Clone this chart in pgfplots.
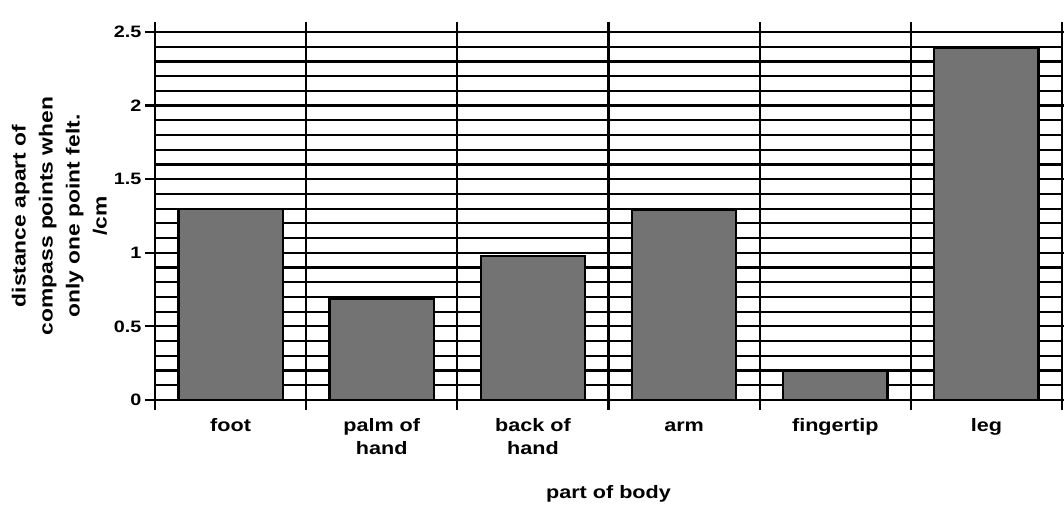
\documentclass[border=0pt]{standalone}
\usepackage{fontspec}
\setmainfont{Liberation Sans}[FakeStretch=1.2]
\usepackage{pgfplots}
\pgfplotsset{compat=1.18}
\begin{document}
\begin{tikzpicture}
\begin{axis}[
  scale only axis, width=907pt, height=368pt,
  xmin=-0.5, xmax=5.5, ymin=0, ymax=2.5,
  xtick={-0.5,0.5,1.5,2.5,3.5,4.5,5.5}, xticklabels={},
  xmajorgrids,
  extra x ticks={0,1,2,3,4,5},
  extra x tick labels={\strut foot,{\strut palm of\\hand},{\strut back of\\hand},\strut arm,\strut fingertip,\strut leg},
  extra x tick style={grid=none, major tick length=0pt,
    tick label style={align=center, font=\fontsize{18}{23}\selectfont\bfseries, yshift=-12pt}},
  ytick={0,0.5,1,1.5,2,2.5},
  minor y tick num=4,
  ymajorgrids, yminorgrids,
  tick align=outside,
  major tick length=10pt, minor tick length=0pt,
  every tick/.style={black, line width=2.2pt},
  major grid style={black, line width=2.2pt},
  minor grid style={black, line width=2.2pt},
  axis line style={black, line width=2.6pt},
  yticklabel style={font=\fontsize{16.5}{20}\selectfont\bfseries, /pgf/number format/assume math mode=true},
  ylabel={distance apart of\\compass points when\\only one point felt.\\/cm},
  ylabel style={align=center, font=\fontsize{19}{27}\selectfont\bfseries},
  xlabel={part of body},
  xlabel style={font=\fontsize{18}{22}\selectfont\bfseries, yshift=-14pt},
]
\addplot[ybar, bar width=0.69, fill=black!55, draw=black, line width=2.2pt]
  coordinates {(0,1.3) (1,0.69) (2,0.98) (3,1.29) (4,0.2) (5,2.39)};
\end{axis}
\pgfresetboundingbox
\path[use as bounding box] (-155pt,-113pt) rectangle (909pt,400pt);
\end{tikzpicture}
\end{document}
